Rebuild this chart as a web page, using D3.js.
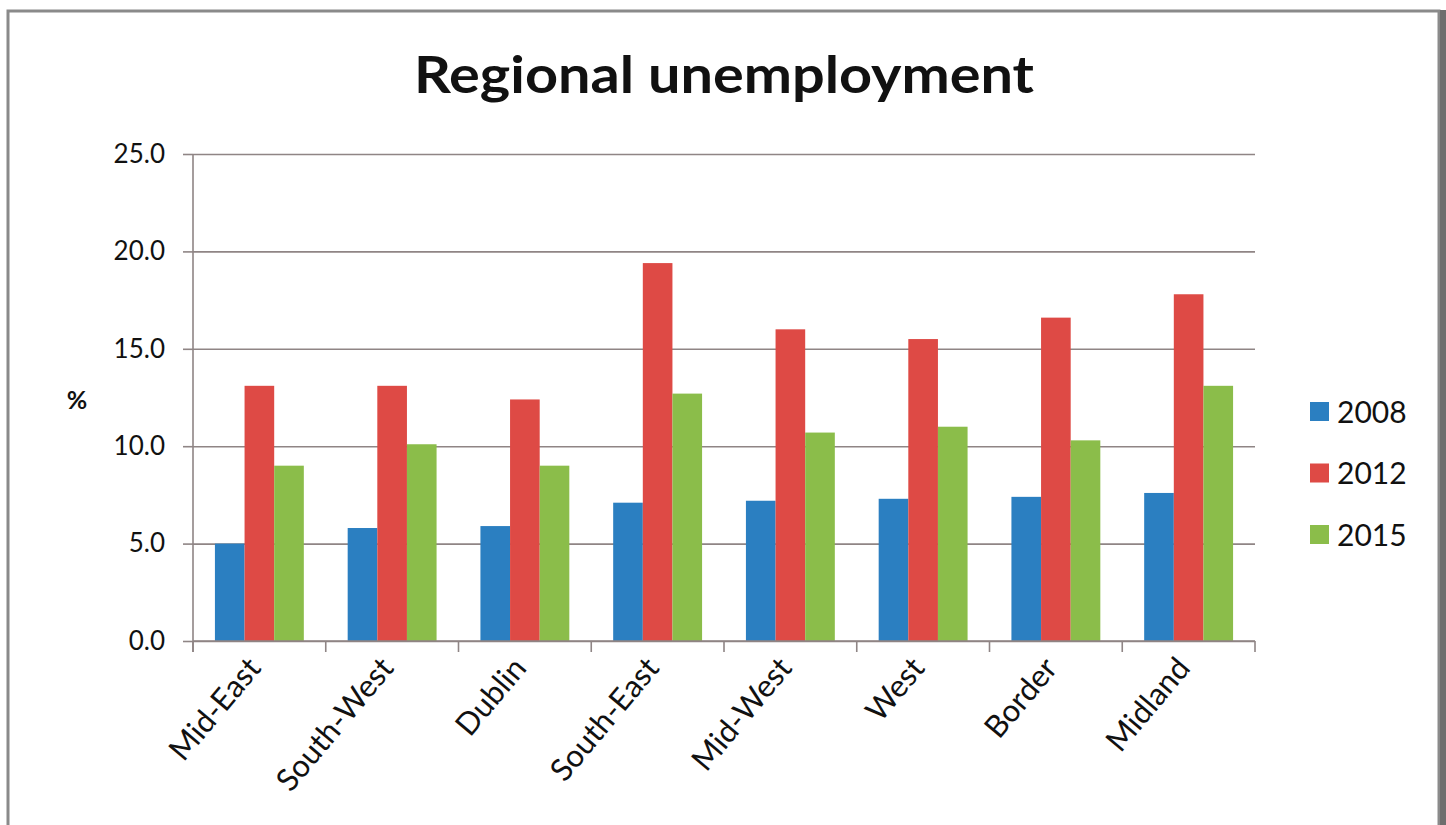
<!DOCTYPE html>
<html lang="en">
<head>
<meta charset="UTF-8" />
<title>Regional unemployment</title>
<script src="https://cdn.jsdelivr.net/npm/d3@7"></script>
<style>
  body { margin: 0; padding: 0; background: #fff; }
  text { font-family: Lato, "Open Sans", sans-serif; fill: #111; }
</style>
</head>
<body>
<svg width="1446" height="825"></svg>
<script>
// data
var regions = ['Mid-East', 'South-West', 'Dublin', 'South-East', 'Mid-West', 'West', 'Border', 'Midland'];
var years = ['2008', '2012', '2015'];
var v2008 = [5.0, 5.8, 5.9, 7.1, 7.2, 7.3, 7.4, 7.6];
var v2012 = [13.1, 13.1, 12.4, 19.4, 16.0, 15.5, 16.6, 17.8];
var v2015 = [9.0, 10.1, 9.0, 12.7, 10.7, 11.0, 10.3, 13.1];
var yTicks = [0, 5, 10, 15, 20, 25];
var colors = ['#2b7fc1', '#de4a45', '#8bbd4a'];

var series = [v2008, v2012, v2015];
var rows = regions.map(function (r, i) {
    return { region: r, values: years.map(function (y, j) { return { year: y, value: series[j][i] }; }) };
});

var svg = d3.select('svg'),
    W = +svg.attr('width'),
    H = +svg.attr('height');

var margin = { top: 154, right: 191, bottom: 184, left: 193 };
var w = W - margin.left - margin.right,
    h = H - margin.top - margin.bottom;

// outer frame
svg.append('rect')
    .attr('x', 8).attr('y', 11)
    .attr('width', 1431).attr('height', 830)
    .attr('fill', '#fff')
    .attr('stroke', '#8a8a8a')
    .attr('stroke-width', 3);
svg.append('rect')
    .attr('x', 1440).attr('y', 10)
    .attr('width', 6).attr('height', 815)
    .attr('fill', '#6e6e6e');

svg.append('text')
    .attr('x', 724).attr('y', 93)
    .attr('text-anchor', 'middle')
    .attr('textLength', 620)
    .attr('lengthAdjust', 'spacingAndGlyphs')
    .style('font-size', '51px')
    .style('font-weight', 'bold')
    .text('Regional unemployment');

var g = svg.append('g').attr('transform', 'translate(' + margin.left + ',' + margin.top + ')');

var x0 = d3.scaleBand().domain(regions).range([0, w]).padding(0);
var x1 = d3.scaleBand().domain(years).range([0, x0.bandwidth()]).paddingInner(0).paddingOuter(0.74);
var y = d3.scaleLinear().domain([0, 25]).range([h, 0]);
var color = d3.scaleOrdinal().domain(years).range(colors);

// gridlines
g.append('g')
    .call(d3.axisLeft(y).tickValues(yTicks).tickSize(-w).tickFormat(''))
    .call(function (s) {
        s.select('.domain').remove();
        s.selectAll('line').attr('stroke', '#8f8585').attr('stroke-width', 1.6);
    });

// bars
g.append('g').selectAll('g')
    .data(rows)
    .join('g')
    .attr('transform', function (d) { return 'translate(' + x0(d.region) + ',0)'; })
    .selectAll('rect')
    .data(function (d) { return d.values; })
    .join('rect')
    .attr('x', function (d) { return x1(d.year); })
    .attr('y', function (d) { return y(d.value); })
    .attr('width', x1.bandwidth())
    .attr('height', function (d) { return h - y(d.value); })
    .attr('fill', function (d) { return color(d.year); });

// y axis
g.append('g')
    .call(d3.axisLeft(y).tickValues(yTicks).tickSize(10).tickPadding(18).tickFormat(d3.format('.1f')))
    .call(function (s) {
        s.select('.domain').attr('stroke', '#8f8585').attr('stroke-width', 1.6)
            .attr('d', 'M0,0V' + (h + 11));
        s.selectAll('line').attr('stroke', '#8f8585').attr('stroke-width', 1.6);
        s.selectAll('text').style('font-size', '26px').style('font-family', 'Lato, sans-serif').attr('fill', '#222');
    });

// x axis: baseline, boundary ticks and rotated labels
var xa = g.append('g').attr('transform', 'translate(0,' + h + ')');
xa.append('line').attr('x1', 0).attr('x2', w)
    .attr('stroke', '#8f8585').attr('stroke-width', 1.6);
xa.selectAll('line.tick')
    .data(d3.range(regions.length + 1))
    .join('line')
    .attr('class', 'tick')
    .attr('x1', function (i) { return i * x0.step(); })
    .attr('x2', function (i) { return i * x0.step(); })
    .attr('y1', 0).attr('y2', 11)
    .attr('stroke', '#8f8585').attr('stroke-width', 1.6);
xa.selectAll('text')
    .data(regions)
    .join('text')
    .attr('text-anchor', 'end')
    .attr('transform', function (d) {
        return 'translate(' + (x0(d) + x0.bandwidth() / 2 + 3) + ',28) rotate(-50)';
    })
    .style('font-size', '31px')
    .text(function (d) { return d; });

// y title
svg.append('text')
    .attr('x', 77).attr('y', 409)
    .attr('text-anchor', 'middle')
    .style('font-size', '25px')
    .style('font-weight', 'bold')
    .text('%');

// legend
var legend = svg.append('g').attr('transform', 'translate(1310,402)');
var li = legend.selectAll('g')
    .data(years)
    .join('g')
    .attr('transform', function (d, i) { return 'translate(0,' + i * 61.5 + ')'; });
li.append('rect')
    .attr('width', 19).attr('height', 19)
    .attr('fill', function (d) { return color(d); });
li.append('text')
    .attr('x', 27).attr('y', 10)
    .attr('dy', '0.36em')
    .style('font-size', '30px')
    .text(function (d) { return d; });
</script>
</body>
</html>
